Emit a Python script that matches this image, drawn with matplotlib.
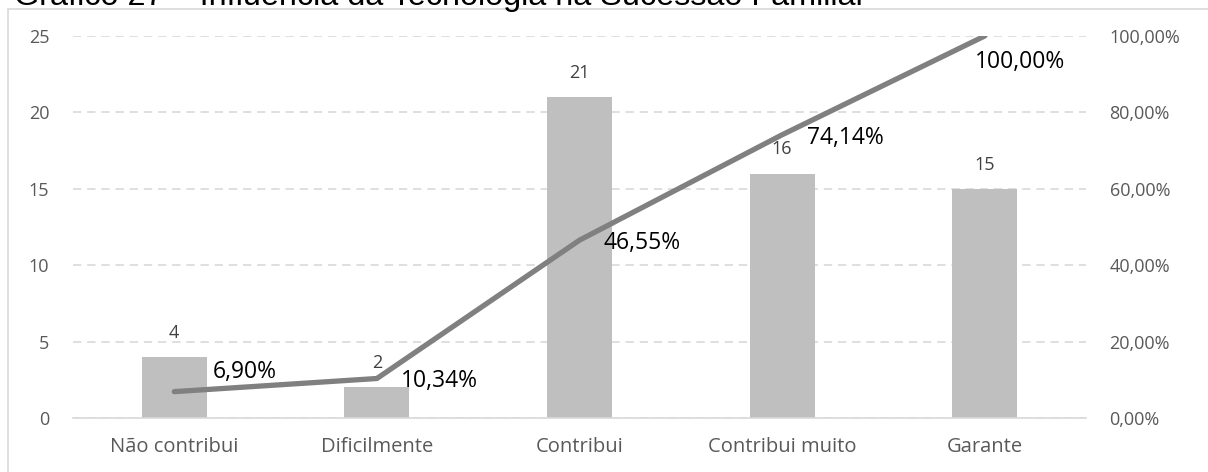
import matplotlib
matplotlib.use("Agg")
import matplotlib.pyplot as plt
from matplotlib.patches import Rectangle

categories = ["Não contribui", "Dificilmente", "Contribui", "Contribui muito", "Garante"]
counts = [4, 2, 21, 16, 15]
cumulative_pct = [6.90, 10.34, 46.55, 74.14, 100.00]
left_ticks = [0, 5, 10, 15, 20, 25]
right_ticks = [0, 20, 40, 60, 80, 100]
title = "Gráfico 27 – Influência da Tecnologia na Sucessão Familiar"

plt.rcParams['font.family'] = ['Open Sans', 'DejaVu Sans']

fig = plt.figure(figsize=(12.08, 4.72), dpi=100)
ax = fig.add_axes([73/1208, 54/472, 1013/1208, 382/472])
ax2 = ax.twinx()

x = list(range(len(categories)))
ax.bar(x, counts, width=0.32, color="#BFBFBF", zorder=2)
ax.set_xlim(-0.5, len(categories) - 0.5)
ax.set_ylim(0, 25)
ax.set_yticks(left_ticks)
ax.set_yticklabels([str(t) for t in left_ticks])
ax.set_xticks(x)
ax.set_xticklabels(categories)
ax.yaxis.grid(True, color="#D9D9D9", linestyle=(0, (5, 3.5)), linewidth=1.2, zorder=0)
ax.set_axisbelow(True)
for s in ["top", "left", "right"]:
    ax.spines[s].set_visible(False)
ax.spines["bottom"].set_color("#D9D9D9")
ax.spines["bottom"].set_linewidth(1.2)
ax.tick_params(axis="both", length=0, labelsize=13, labelcolor="#595959")
ax.tick_params(axis="y", pad=17)
ax.tick_params(axis="x", pad=14, labelsize=14.5)

for xi, c in zip(x, counts):
    ax.annotate(str(c), (xi, c), xytext=(0, 11), textcoords="offset points",
                ha="center", va="bottom", fontsize=13, color="#404040")

ax2.plot(x, cumulative_pct, color="#808080", linewidth=3.8, solid_capstyle="round", zorder=3)
ax2.set_ylim(0, 100)
ax2.set_yticks(right_ticks)
ax2.set_yticklabels([f"{t:.2f}%".replace(".", ",") for t in right_ticks])
for s in ["top", "left", "right", "bottom"]:
    ax2.spines[s].set_visible(False)
ax2.tick_params(axis="y", length=0, labelsize=13, labelcolor="#595959", pad=17)

offsets = [(28, 14), (17, -2), (17, -2), (18, -2), (-7, -19)]
for xi, p, off in zip(x, cumulative_pct, offsets):
    ax2.annotate(f"{p:.2f}%".replace(".", ","), (xi, p), xytext=off, textcoords="offset points",
                 ha="left", va="center", fontsize=16.5, color="#000000")

fig.patches.append(Rectangle((8/1208, -0.1), 1.2, 1.1 - 9/472, transform=fig.transFigure,
                             fill=False, edgecolor="#D9D9D9", linewidth=1.2))
fig.text(14/1208, 1 - 5/472, title, ha="left", va="baseline", fontsize=23.3,
         family=["Liberation Sans", "DejaVu Sans"], color="#000000")

fig.savefig("out.png", dpi=100)
